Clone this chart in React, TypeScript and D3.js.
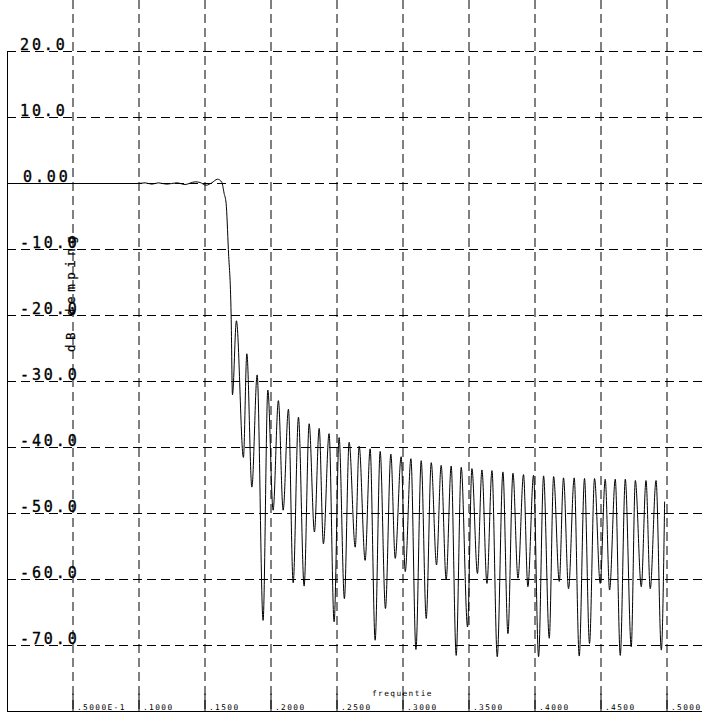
import React from 'react';
import * as d3 from 'd3';

// Y axis (dB) ticks and labels
const yTicks = [20, 10, 0, -10, -20, -30, -40, -50, -60, -70];
const yTickLabels = ['20.0', '10.0', '0.00', '-10.0', '-20.0', '-30.0', '-40.0', '-50.0', '-60.0', '-70.0'];

// X axis (frequency) ticks and labels
const xTicks = [0.05, 0.1, 0.15, 0.2, 0.25, 0.3, 0.35, 0.4, 0.45, 0.5];
const xTickLabels = ['.5000E-1', '.1000', '.1500', '.2000', '.2500', '.3000', '.3500', '.4000', '.4500', '.5000'];

// Passband + transition (frequency, dB)
const passFreq = [0.0, 0.0995, 0.1046, 0.1097, 0.1147, 0.121, 0.1286, 0.1349, 0.1425, 0.1463, 0.1508, 0.1551, 0.1595, 0.1627, 0.1645, 0.166, 0.1677, 0.1698];
const passDb = [0.0, 0.0, 0.1, -0.1, 0.1, -0.1, 0.1, -0.15, 0.25, 0.15, -0.26, 0.1, 0.65, 0.2, -1.5, -3.0, -10.0, -20.0];

// Stopband nulls (frequency, dB)
const nullFreq = [0.1708, 0.1791, 0.1855, 0.194, 0.2016, 0.2092, 0.2168, 0.2251, 0.2329, 0.2397, 0.2478, 0.2556, 0.2638, 0.2713, 0.2789, 0.2867, 0.2941, 0.3017, 0.3098, 0.3176, 0.3254, 0.3327, 0.3403, 0.3489, 0.3564, 0.3636, 0.3714, 0.3795, 0.3871, 0.3946, 0.4027, 0.4108, 0.4184, 0.4254, 0.4335, 0.4413, 0.4494, 0.4565, 0.4646, 0.4729, 0.4805, 0.4873, 0.4957];
const nullDb = [-32.0, -41.5, -46.0, -66.2, -49.5, -49.5, -60.5, -61.0, -52.8, -54.6, -66.4, -62.9, -55.1, -57.1, -69.2, -64.4, -56.8, -58.8, -70.6, -65.9, -57.8, -60.0, -71.5, -67.2, -59.1, -60.6, -71.7, -68.2, -59.8, -61.1, -71.7, -68.9, -60.3, -61.4, -71.6, -69.7, -60.6, -61.6, -71.5, -70.2, -61.1, -61.4, -70.7];

// Stopband peaks (frequency, dB)
const peakFreq = [0.1738, 0.1817, 0.1895, 0.1976, 0.2056, 0.2132, 0.2208, 0.2289, 0.2365, 0.244, 0.2516, 0.2592, 0.2668, 0.2751, 0.2827, 0.2908, 0.2986, 0.306, 0.3138, 0.3214, 0.3289, 0.3365, 0.3441, 0.3522, 0.3598, 0.3674, 0.3757, 0.3833, 0.3913, 0.3989, 0.4065, 0.4141, 0.4216, 0.4297, 0.4375, 0.4451, 0.4532, 0.4608, 0.4684, 0.476, 0.4841, 0.4917];
const peakDb = [-20.8, -25.8, -29.0, -31.3, -32.9, -34.2, -35.4, -36.4, -37.1, -37.9, -38.5, -39.2, -39.8, -40.2, -40.6, -41.0, -41.4, -41.7, -42.0, -42.3, -42.7, -42.8, -43.0, -43.2, -43.4, -43.5, -43.7, -43.9, -44.1, -44.2, -44.3, -44.4, -44.6, -44.6, -44.7, -44.7, -44.8, -44.8, -44.8, -45.0, -45.0, -45.0];

// Last sample
const endFreq = [0.4982];
const endDb = [-48.2];

const W = 702;
const H = 713;

export default function App() {
  const x = d3.scaleLinear().domain([0, 0.5]).range([7, 667]);
  const y = d3.scaleLinear().domain([-80, 20]).range([711.5, 51.5]);

  const pts: [number, number][] = [];
  passFreq.forEach((f, i) => pts.push([f, passDb[i]]));
  nullFreq.forEach((f, i) => {
    pts.push([f, nullDb[i]]);
    if (i < peakFreq.length) pts.push([peakFreq[i], peakDb[i]]);
  });
  endFreq.forEach((f, i) => pts.push([f, endDb[i]]));

  const line = d3
    .line<[number, number]>()
    .x((d) => x(d[0]))
    .y((d) => y(d[1]))
    .curve(d3.curveMonotoneX);

  const font = '"DejaVu Sans Mono", monospace';

  return (
    <svg
      width={W}
      height={H}
      style={{ position: 'absolute', left: 0, top: 0, background: '#fff' }}
    >
      <rect x={0} y={0} width={W} height={H} fill="#fff" />
      {/* horizontal gridlines */}
      {yTicks.map((t) => (
        <line
          key={'hy' + t}
          x1={7}
          x2={W}
          y1={y(t)}
          y2={y(t)}
          stroke="#000"
          strokeWidth={1}
          strokeDasharray="9,5"
        />
      ))}
      {/* vertical gridlines */}
      {xTicks.map((t) => (
        <line
          key={'vx' + t}
          x1={x(t)}
          x2={x(t)}
          y1={0}
          y2={y(-80)}
          stroke="#000"
          strokeWidth={1}
          strokeDasharray="9,5"
        />
      ))}
      {/* bottom ticks */}
      {xTicks.map((t) => (
        <line key={'tx' + t} x1={x(t)} x2={x(t)} y1={y(-80) - 18} y2={y(-80)} stroke="#000" strokeWidth={1} />
      ))}
      {/* axes */}
      <line x1={7.5} x2={7.5} y1={y(20)} y2={y(-80)} stroke="#000" strokeWidth={1} />
      <line x1={7} x2={W} y1={y(-80)} y2={y(-80)} stroke="#000" strokeWidth={1} />
      {/* curve */}
      <path d={line(pts) || ''} fill="none" stroke="#000" strokeWidth={1} />
      {/* y tick labels */}
      {yTicks.map((t, i) => (
        <text
          key={'ly' + t}
          x={t === 0 ? 23 : 20}
          y={y(t) - 1.5}
          fontFamily={font}
          fontSize={15}
          letterSpacing={2.9}
          fill="#000"
          stroke="#000"
          strokeWidth={0.35}
        >
          {yTickLabels[i]}
        </text>
      ))}
      {/* x tick labels */}
      {xTicks.map((t, i) => (
        <text
          key={'lx' + t}
          x={x(t) + 4}
          y={710}
          fontFamily={font}
          fontSize={7.8}
          letterSpacing={1.4}
          fill="#000"
        >
          {xTickLabels[i]}
        </text>
      ))}
      {/* axis titles */}
      <text x={372} y={696} fontFamily={font} fontSize={7.8} letterSpacing={1.4} fill="#000">
        frequentie
      </text>
      <text
        transform={`translate(75,352) rotate(-90)`}
        fontFamily={font}
        fontSize={12.5}
        letterSpacing={4.5}
        fill="#000"
        stroke="#000"
        strokeWidth={0.25}
      >
        dB demping
      </text>
    </svg>
  );
}
